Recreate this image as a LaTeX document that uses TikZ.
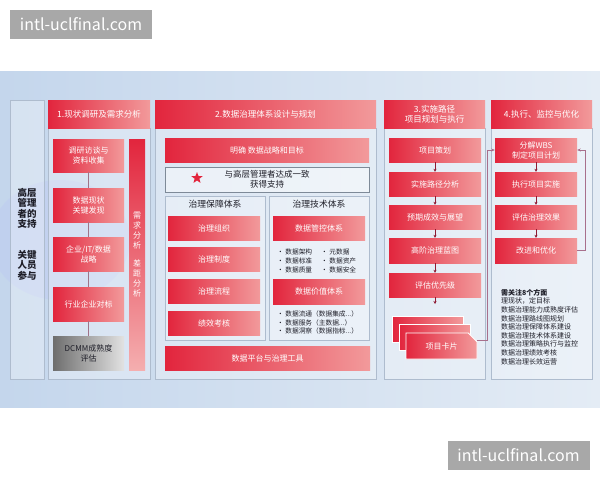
\documentclass[tikz,border=0pt]{standalone}
\usepackage{fontspec}
\setmainfont{Noto Sans CJK SC}
\usetikzlibrary{shapes.misc,shapes.geometric,arrows.meta}
\definecolor{rL}{HTML}{E2253D}
\definecolor{rR}{HTML}{F29A9B}
\definecolor{bgL}{HTML}{C4D6EC}
\definecolor{bgR}{HTML}{E4ECF5}
\definecolor{pnB}{HTML}{AEBCCE}
\definecolor{arC}{HTML}{8E1B33}
\definecolor{lnC}{HTML}{A8708C}
\definecolor{txD}{HTML}{1E1E28}
\definecolor{wmG}{HTML}{A8A8A8}
\definecolor{gyL}{HTML}{6E6E6E}
\definecolor{gyR}{HTML}{E2E2E2}
\definecolor{obB}{HTML}{7E8A98}
\tikzset{
  redbox/.style={rectangle, left color=rL, right color=rR, text=white, inner sep=0pt, align=center, font=\fontsize{8}{10}\selectfont},
  hdrbox/.style={redbox, font=\fontsize{8.5}{10.5}\selectfont},
  panel/.style={rectangle, draw=pnB, line width=0.6pt, fill=white, fill opacity=0.3, inner sep=0pt},
  darr/.style={-{Stealth[length=3pt,width=3pt]}, arC, line width=0.6pt},
  loopln/.style={lnC, line width=0.7pt, -{Stealth[length=3.5pt,width=3pt]}},
  vline/.style={draw=lnC!80!gray, line width=0.6pt},
  cardbox/.style={chamfered rectangle, chamfered rectangle corners=north east, chamfered rectangle sep=5pt, left color=rL, right color=rR, draw=white, line width=0.9pt, text=white, inner sep=0pt, minimum width=71pt, minimum height=26pt, font=\fontsize{8}{10}\selectfont},
  darktxt/.style={text=txD, inner sep=0pt, align=center},
  bul/.style={text=txD, inner sep=0pt, align=left, anchor=west, font=\fontsize{6.7}{8.6}\selectfont},
  wmark/.style={fill=wmG, text=white, font=\fontsize{16}{16}\selectfont, minimum width=142pt, minimum height=29pt, inner sep=0pt}
}
\begin{document}
\begin{tikzpicture}[x=1pt,y=-1pt]
\useasboundingbox (0,0) rectangle (600,480);
\fill[white] (0,0) rectangle (600,480);
% background
\fill[left color=bgL, right color=bgR] (0,71) rectangle (600,407);
\fill[bgL!70!blue!60, opacity=0.25] (60,240) ellipse (70pt and 60pt);

% left column
\node[panel, minimum width=34pt, minimum height=279pt] (lcol) at (27,239.5) {};
\node[darktxt, font=\bfseries\fontsize{9.5}{10.5}\selectfont] (ltxt1) at (27,208.5) {高层\\管理\\者的\\支持};
\node[darktxt, font=\bfseries\fontsize{9.5}{10.5}\selectfont] (ltxt2) at (27,265) {关键\\人员\\参与};

% column panels
\node[panel, minimum width=102pt, minimum height=251pt] (p1) at (99,253.5) {};
\node[panel, minimum width=221pt, minimum height=251pt] (p2) at (265.5,253.5) {};
\node[panel, minimum width=101pt, minimum height=251pt] (p3) at (434.5,253.5) {};
\node[panel, minimum width=101pt, minimum height=251pt] (p4) at (541.5,253.5) {};

% headers
\node[hdrbox, minimum width=102pt, minimum height=28pt] (h1) at (99,114) {1.现状调研及需求分析};
\node[hdrbox, minimum width=221pt, minimum height=28pt] (h2) at (265.5,114) {2.数据治理体系设计与规划};
\node[hdrbox, minimum width=101pt, minimum height=28pt] (h3) at (434.5,114) {3.实施路径\\项目规划与执行};
\node[hdrbox, minimum width=101pt, minimum height=28pt] (h4) at (541.5,114) {4.执行、监控与优化};

% column 1
\node[redbox, minimum width=71pt, minimum height=33pt] (c1a) at (88.5,155.5) {调研访谈与\\资料收集};
\node[redbox, minimum width=71pt, minimum height=34pt] (c1b) at (88.5,205) {数据现状\\关键发现};
\node[redbox, minimum width=71pt, minimum height=34pt] (c1c) at (88.5,254) {企业/IT/数据\\战略};
\node[redbox, minimum width=71pt, minimum height=34pt] (c1d) at (88.5,304) {行业企业对标};
\node[redbox, left color=gyL, right color=gyR, text=txD, minimum width=71pt, minimum height=34pt] (c1e) at (88.5,353) {DCMM成熟度\\评估};
\draw[vline] (c1a) -- (c1b);
\draw[vline] (c1b) -- (c1c);
\draw[vline] (c1c) -- (c1d);
\draw[vline] (c1d) -- (c1e);
\node[rectangle, top color=rL, bottom color=rR!80!white, text=white, inner sep=0pt, align=center, font=\fontsize{8}{10}\selectfont, minimum width=16pt, minimum height=231pt] (gap) at (137,254.5) {需\\求\\分\\析\\[8pt]差\\距\\分\\析};

% column 2
\node[redbox, minimum width=204pt, minimum height=24pt] (c2a) at (267,150) {明确 数据战略和目标};
\node[rectangle, draw=obB, line width=0.6pt, fill=white, fill opacity=0.45, text opacity=1, text=txD, align=center, inner sep=0pt, font=\fontsize{8.5}{10}\selectfont, minimum width=204pt, minimum height=25pt] (c2b) at (267,179.5) {与高层管理者达成一致\\获得支持};
\node[star, star points=5, star point ratio=2.4, fill=rL, minimum size=12pt, inner sep=0pt] (star) at (197,178) {};
\node[panel, minimum width=100pt, minimum height=144pt] (sp1) at (215,268) {};
\node[panel, minimum width=100pt, minimum height=144pt] (sp2) at (319,268) {};
\node[darktxt, font=\fontsize{8.8}{10}\selectfont] (t1) at (215,204.5) {治理保障体系};
\node[darktxt, font=\fontsize{8.8}{10}\selectfont] (t2) at (319,204.5) {治理技术体系};
\node[redbox, minimum width=92pt, minimum height=24pt] (g1) at (214,228) {治理组织};
\node[redbox, minimum width=92pt, minimum height=24pt] (g2) at (214,259.5) {治理制度};
\node[redbox, minimum width=92pt, minimum height=24pt] (g3) at (214,291) {治理流程};
\node[redbox, minimum width=92pt, minimum height=24pt] (g4) at (214,323) {绩效考核};
\node[redbox, minimum width=92pt, minimum height=24pt] (k1) at (319,228) {数据管控体系};
\node[bul] (b1) at (277,261) {•\ 数据架构\\•\ 数据标准\\•\ 数据质量};
\node[bul] (b2) at (321,261) {•\ 元数据\\•\ 数据资产\\•\ 数据安全};
\node[redbox, minimum width=92pt, minimum height=25pt] (k2) at (319,291.5) {数据价值体系};
\node[bul] (b3) at (277,322.5) {•\ 数据流通（数据集成...）\\•\ 数据服务（主数据...）\\•\ 数据洞察（数据指标...）};
\node[redbox, minimum width=205pt, minimum height=24pt] (c2z) at (267.5,358) {数据平台与治理工具};

% column 3
\node[redbox, minimum width=92pt, minimum height=24pt] (s1) at (435,150) {项目策划};
\node[redbox, minimum width=92pt, minimum height=24pt] (s2) at (435,184) {实施路径分析};
\node[redbox, minimum width=92pt, minimum height=24pt] (s3) at (435,217) {预期成效与展望};
\node[redbox, minimum width=92pt, minimum height=25pt] (s4) at (435,250.5) {高阶治理蓝图};
\node[redbox, minimum width=92pt, minimum height=24pt] (s5) at (435,285) {评估优先级};
\node[cardbox] (card1) at (427.5,329) {};
\node[cardbox] (card2) at (434.5,337.5) {};
\node[cardbox] (card3) at (441.5,346) {项目卡片};
\draw[darr] (s1) -- (s2);
\draw[darr] (s2) -- (s3);
\draw[darr] (s3) -- (s4);
\draw[darr] (s4) -- (s5);
\coordinate (ctop) at (435,304);
\draw[darr] (s5) -- (ctop);

% column 4
\node[redbox, minimum width=82pt, minimum height=24pt] (w1) at (536,150) {分解WBS\\制定项目计划};
\node[redbox, minimum width=82pt, minimum height=24pt] (w2) at (536,184) {执行项目实施};
\node[redbox, minimum width=82pt, minimum height=24pt] (w3) at (536,217) {评估治理效果};
\node[redbox, minimum width=82pt, minimum height=25pt] (w4) at (536,250.5) {改进和优化};
\draw[darr] (w1) -- (w2);
\draw[darr] (w2) -- (w3);
\draw[darr] (w3) -- (w4);
\coordinate (fr) at (585,250.5);
\draw[loopln] (w4.east) -- (fr) |- (w1.east);
\coordinate (cj) at (487,340);
\draw[loopln] (card3.east |- cj) -- (cj) |- (w1.west);

\node[anchor=north west, align=left, text=txD, inner sep=0pt, font=\fontsize{7}{8.6}\selectfont] (note) at (501,289) {\textbf{需关注8个方面}\\理现状，定目标\\数据治理能力成熟度评估\\数据治理路线图规划\\数据治理保障体系建设\\数据治理技术体系建设\\数据治理策略执行与监控\\数据治理绩效考核\\数据治理长效运营};

% watermarks
\node[wmark] (wm1) at (81,24.5) {intl-uclfinal.com};
\node[wmark] (wm2) at (518.5,455) {intl-uclfinal.com};
\end{tikzpicture}
\end{document}
